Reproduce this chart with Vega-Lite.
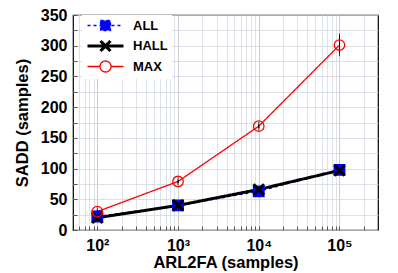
{
  "$schema": "https://vega.github.io/schema/vega-lite/v6.json",
  "width": 305,
  "height": 215,
  "autosize": {"type": "none"},
  "padding": {"left": 73, "top": 15, "right": 20, "bottom": 43},
  "background": "white",
  "config": {
    "view": {"stroke": "black", "strokeWidth": 1.2},
    "font": "Liberation Sans",
    "axis": {
      "labelFont": "Liberation Sans",
      "labelFontWeight": "bold",
      "labelFontSize": 16,
      "labelColor": "black",
      "titleFont": "Liberation Sans",
      "titleFontWeight": "bold",
      "titleFontSize": 16.5,
      "titleColor": "black",
      "domain": false,
      "tickColor": "#555555",
      "gridColor": "#d3d7e0",
      "gridWidth": 0.8
    }
  },
  "data": {
    "values": [
      {"x": 100, "sadd": 22, "series": "ALL"},
      {"x": 1000, "sadd": 40, "series": "ALL"},
      {"x": 10000, "sadd": 63, "series": "ALL"},
      {"x": 100000, "sadd": 98, "series": "ALL"},
      {"x": 100, "sadd": 20, "series": "HALL"},
      {"x": 1000, "sadd": 40, "series": "HALL"},
      {"x": 10000, "sadd": 66, "series": "HALL"},
      {"x": 100000, "sadd": 97, "series": "HALL"},
      {"x": 100, "sadd": 30, "series": "MAX", "lo": 27, "hi": 33},
      {"x": 1000, "sadd": 79, "series": "MAX", "lo": 76, "hi": 82},
      {"x": 10000, "sadd": 169, "series": "MAX", "lo": 166, "hi": 172},
      {"x": 100000, "sadd": 301, "series": "MAX", "lo": 287, "hi": 316}
    ]
  },
  "encoding": {
    "x": {
      "field": "x",
      "type": "quantitative",
      "scale": {"type": "log", "domain": [50, 300000], "nice": false},
      "axis": {
        "title": "ARL2FA (samples)",
        "values": [60,70,80,90,100,200,300,400,500,600,700,800,900,1000,2000,3000,4000,5000,6000,7000,8000,9000,10000,20000,30000,40000,50000,60000,70000,80000,90000,100000,200000],
        "labelExpr": "datum.value==100?'10²':datum.value==1000?'10³':datum.value==10000?'10⁴':datum.value==100000?'10⁵':''",
        "tickSize": -4,
        "labelPadding": 11,
        "titlePadding": 1,
        "gridColor": {"condition": {"test": "datum.value==100||datum.value==1000||datum.value==10000||datum.value==100000", "value": "#b9bfcc"}, "value": "#d6dae3"}
      }
    },
    "y": {
      "field": "sadd",
      "type": "quantitative",
      "scale": {"domain": [0, 350], "nice": false},
      "axis": {
        "title": "SADD (samples)",
        "values": [0,25,50,75,100,125,150,175,200,225,250,275,300,325,350],
        "labelExpr": "datum.value % 50 == 0 ? datum.label : ''",
        "tickSize": -4,
        "labelPadding": 10,
        "titlePadding": 10
      }
    },
    "color": {
      "field": "series", "type": "nominal",
      "scale": {"domain": ["ALL", "HALL", "MAX"], "range": ["#0000ff", "#000000", "#ff0000"]},
      "legend": {
        "title": null,
        "orient": "none",
        "legendX": 9,
        "legendY": 0,
        "padding": 4,
        "fillColor": "white",
        "symbolSize": 100,
        "labelOffset": 34,
        "labelFont": "Liberation Sans",
        "labelFontWeight": "bold",
        "labelFontSize": 13,
        "labelColor": "black",
        "rowPadding": 0.5
      }
    },
    "strokeWidth": {
      "field": "series", "type": "nominal",
      "scale": {"type": "ordinal", "domain": ["ALL", "HALL", "MAX"], "range": [1.3, 3, 1.3]}
    }
  },
  "layer": [
    {
      "mark": {"type": "line"},
      "encoding": {
        "strokeDash": {
          "field": "series", "type": "nominal",
          "scale": {"domain": ["ALL", "HALL", "MAX"], "range": [[3, 3], [1, 0], [1, 0]]}
        }
      }
    },
    {
      "transform": [{"filter": "datum.series==='MAX'"}],
      "mark": {"type": "rule", "color": "black"},
      "encoding": {
        "y": {"field": "lo", "type": "quantitative"},
        "y2": {"field": "hi"},
        "color": {"value": "black"},
        "strokeWidth": {"value": 1}
      }
    },
    {
      "transform": [{"filter": "datum.series==='MAX'"}],
      "mark": {"type": "tick", "color": "black", "thickness": 1, "size": 5},
      "encoding": {"y": {"field": "lo", "type": "quantitative"}, "color": {"value": "black"}, "strokeWidth": {"value": 1}}
    },
    {
      "transform": [{"filter": "datum.series==='MAX'"}],
      "mark": {"type": "tick", "color": "black", "thickness": 1, "size": 5},
      "encoding": {"y": {"field": "hi", "type": "quantitative"}, "color": {"value": "black"}, "strokeWidth": {"value": 1}}
    },
    {
      "transform": [{"filter": "false"}],
      "mark": {"type": "point", "filled": false, "opacity": 1, "size": 100},
      "encoding": {
        "shape": {
          "field": "series", "type": "nominal",
          "scale": {"domain": ["ALL", "HALL", "MAX"], "range": ["M-1,0H6.2M1.6,-1H3.6V1H1.6Z", "M-1,0H6.2M1.6,-1L3.6,1M1.6,1L3.6,-1", "M-1,0H1.5A1.1,1.1 0 1,1 3.7,0A1.1,1.1 0 1,1 1.5,0M3.7,0H6.2"]}
        },
        "fill": {
          "field": "series", "type": "nominal",
          "scale": {"domain": ["ALL", "HALL", "MAX"], "range": ["#0000ff", "transparent", "transparent"]}
        }
      }
    },
    {
      "mark": {"type": "point", "filled": false, "opacity": 1, "size": 110},
      "encoding": {
        "shape": {"condition": [{"test": "datum.series==='ALL'", "value": "square"}, {"test": "datum.series==='HALL'", "value": "M-1,-1L1,1M-1,1L1,-1"}], "value": "circle"},
        "fill": {"field": "series", "type": "nominal"}
      }
    }
  ]
}
